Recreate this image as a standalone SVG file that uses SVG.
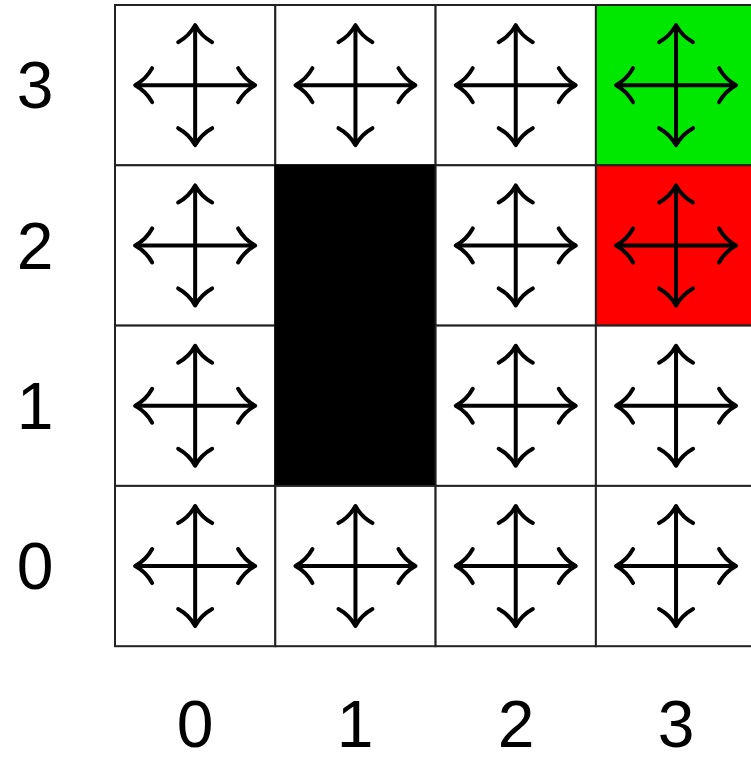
<svg xmlns="http://www.w3.org/2000/svg" xmlns:xlink="http://www.w3.org/1999/xlink" width="751" height="760" viewBox="0 0 751 760">
<style>
.cell{stroke:#222;stroke-width:2}
.white{fill:#fff}
.wall{fill:#000;stroke:#000}
.goal{fill:#00e800}
.pit{fill:#ff0000}
.shaft{stroke:#000;stroke-width:4;fill:none;stroke-linecap:round}
.head{stroke:#000;stroke-width:4;fill:none;stroke-linecap:round;stroke-linejoin:round}
.lbl{font-family:"Liberation Sans",Arial,sans-serif;font-size:66px;fill:#000;text-anchor:middle}
</style>
<defs>
<g id="cross">
<line class="shaft" x1="-59" y1="0" x2="59" y2="0"/>
<line class="shaft" x1="0" y1="-59" x2="0" y2="59"/>
<path class="head" d="M-43,-17 Q-49,-6 -60,0 Q-49,6 -43,17"/>
<path class="head" d="M43,-17 Q49,-6 60,0 Q49,6 43,17"/>
<path class="head" d="M-17,-43 Q-6,-49 0,-60 Q6,-49 17,-43"/>
<path class="head" d="M-17,43 Q-6,49 0,60 Q6,49 17,43"/>
</g>
</defs>
<rect width="751" height="760" fill="#fff"/>
<g id="cell-0-3"><rect class="cell white" x="115" y="5" width="160.3" height="160.3"/><use xlink:href="#cross" href="#cross" x="195.15" y="85.15"/></g>
<g id="cell-1-3"><rect class="cell white" x="275.3" y="5" width="160.3" height="160.3"/><use xlink:href="#cross" href="#cross" x="355.45" y="85.15"/></g>
<g id="cell-2-3"><rect class="cell white" x="435.6" y="5" width="160.3" height="160.3"/><use xlink:href="#cross" href="#cross" x="515.75" y="85.15"/></g>
<g id="cell-3-3"><rect class="cell goal" x="595.9" y="5" width="160.3" height="160.3"/><use xlink:href="#cross" href="#cross" x="676.05" y="85.15"/></g>
<g id="cell-0-2"><rect class="cell white" x="115" y="165.3" width="160.3" height="160.3"/><use xlink:href="#cross" href="#cross" x="195.15" y="245.45"/></g>
<g id="cell-1-2"><rect class="cell wall" x="275.3" y="165.3" width="160.3" height="160.3"/></g>
<g id="cell-2-2"><rect class="cell white" x="435.6" y="165.3" width="160.3" height="160.3"/><use xlink:href="#cross" href="#cross" x="515.75" y="245.45"/></g>
<g id="cell-3-2"><rect class="cell pit" x="595.9" y="165.3" width="160.3" height="160.3"/><use xlink:href="#cross" href="#cross" x="676.05" y="245.45"/></g>
<g id="cell-0-1"><rect class="cell white" x="115" y="325.6" width="160.3" height="160.3"/><use xlink:href="#cross" href="#cross" x="195.15" y="405.75"/></g>
<g id="cell-1-1"><rect class="cell wall" x="275.3" y="325.6" width="160.3" height="160.3"/></g>
<g id="cell-2-1"><rect class="cell white" x="435.6" y="325.6" width="160.3" height="160.3"/><use xlink:href="#cross" href="#cross" x="515.75" y="405.75"/></g>
<g id="cell-3-1"><rect class="cell white" x="595.9" y="325.6" width="160.3" height="160.3"/><use xlink:href="#cross" href="#cross" x="676.05" y="405.75"/></g>
<g id="cell-0-0"><rect class="cell white" x="115" y="485.9" width="160.3" height="160.3"/><use xlink:href="#cross" href="#cross" x="195.15" y="566.05"/></g>
<g id="cell-1-0"><rect class="cell white" x="275.3" y="485.9" width="160.3" height="160.3"/><use xlink:href="#cross" href="#cross" x="355.45" y="566.05"/></g>
<g id="cell-2-0"><rect class="cell white" x="435.6" y="485.9" width="160.3" height="160.3"/><use xlink:href="#cross" href="#cross" x="515.75" y="566.05"/></g>
<g id="cell-3-0"><rect class="cell white" x="595.9" y="485.9" width="160.3" height="160.3"/><use xlink:href="#cross" href="#cross" x="676.05" y="566.05"/></g>
<g id="row-labels">
<text class="lbl" x="35" y="108">3</text>
<text class="lbl" x="35" y="269">2</text>
<text class="lbl" x="35" y="429">1</text>
<text class="lbl" x="35" y="589">0</text>
</g>
<g id="col-labels">
<text class="lbl" x="195" y="747">0</text>
<text class="lbl" x="355" y="747">1</text>
<text class="lbl" x="516" y="747">2</text>
<text class="lbl" x="676" y="747">3</text>
</g>
<g id="connectors"/>
</svg>
